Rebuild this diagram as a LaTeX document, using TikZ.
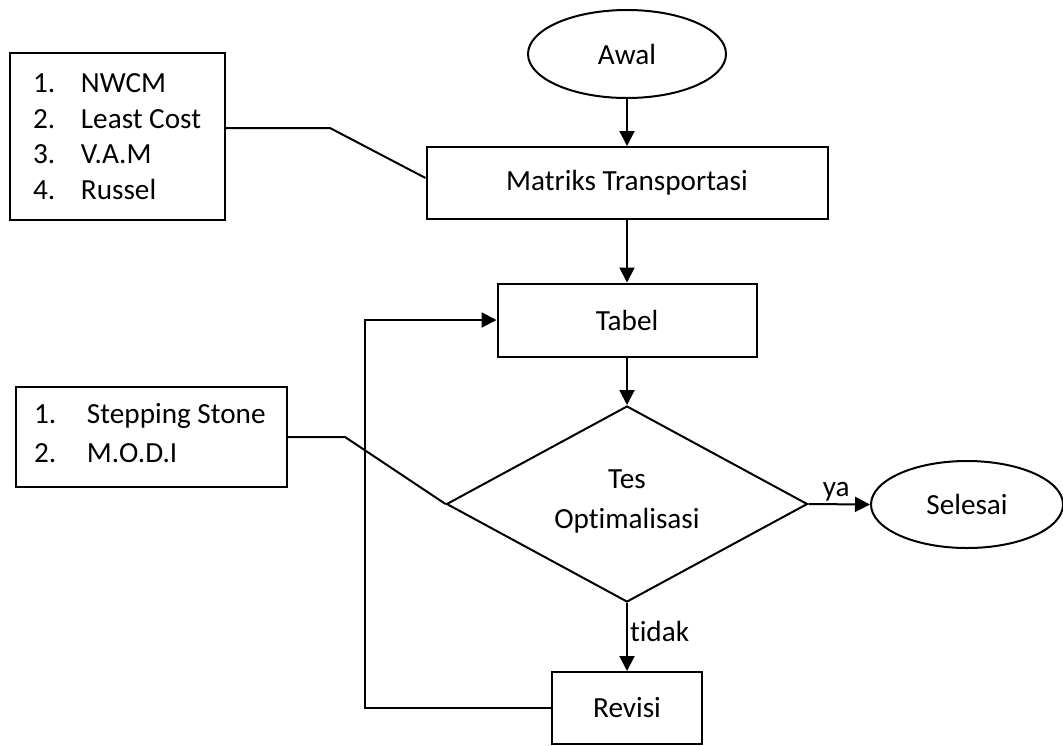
\documentclass[tikz,border=0pt]{standalone}
\usepackage{fontspec}
\setmainfont{Carlito}[Ligatures=NoCommon]
\usetikzlibrary{arrows.meta,shapes.geometric}

\begin{document}
\begin{tikzpicture}[
  x=0.5pt, y=-0.5pt,
  line width=1pt,
  every node/.style={font=\fontsize{14.6}{20}\selectfont},
  procbox/.style={draw, rectangle, inner sep=0pt},
  termin/.style={draw, ellipse, inner sep=0pt},
  decide/.style={draw, diamond, inner sep=0pt},
  listline/.style={anchor=base west, inner sep=0pt},
  arr/.style={-{Triangle[length=7.5pt,width=7.5pt]}},
  edgelbl/.style={inner sep=1pt}
]
\useasboundingbox (0,0) rectangle (1063,745);

% main flow
\node[termin, minimum width=99pt, minimum height=44pt] (awal) at (627,54) {Awal};
\node[procbox, minimum width=200.5pt, minimum height=36pt] (matriks) at (627,183) {Matriks Transportasi};
\node[procbox, minimum width=129.5pt, minimum height=36.5pt] (tabel) at (627,320) {Tabel};
\node[decide, minimum width=180.5pt, minimum height=98pt] (tes) at (627,504) {};
\node[align=center, inner sep=0pt] (tesText) at (627,501) {Tes\\Optimalisasi};
\node[procbox, minimum width=75pt, minimum height=36pt] (revisi) at (627,708) {Revisi};
\node[termin, minimum width=96pt, minimum height=43.5pt] (selesai) at (967,504.5) {Selesai};

% method lists
\node[procbox, minimum width=107.5pt, minimum height=83.5pt] (metode) at (117.5,136.5) {};
\node[listline] (m1) at (32,92) {\makebox[24pt][l]{1.}NWCM};
\node[listline] (m2) at (32,128) {\makebox[24pt][l]{2.}Least Cost};
\node[listline] (m3) at (32,163) {\makebox[24pt][l]{3.}V.A.M};
\node[listline] (m4) at (32,199) {\makebox[24pt][l]{4.}Russel};

\node[procbox, minimum width=135.5pt, minimum height=50pt] (uji) at (151.5,437) {};
\node[listline] (u1) at (33,423) {\makebox[26.5pt][l]{1.}Stepping Stone};
\node[listline] (u2) at (33,462) {\makebox[26.5pt][l]{2.}M.O.D.I};

% bend points and feedback route
\coordinate (k1) at (330,128);
\coordinate (k2) at (345,437);
\coordinate (fb) at (365,0);

% connectors
\draw[arr] (awal.south) -- (matriks.north);
\draw[arr] (matriks.south) -- (tabel.north);
\draw[arr] (tabel.south) -- (tes.north);
\draw[arr] (tes.south) -- node[edgelbl, right, pos=0.42] {tidak} (revisi.north);
\draw[arr] (tes.east) -- node[edgelbl, above, pos=0.45] {ya} (selesai.west);
\draw[arr] (revisi.west) -- (revisi.west -| fb) |- (tabel.west);

% method annotations
\draw ([yshift=4.25pt]metode.east) -- (k1) -- ([yshift=2.5pt]matriks.west);
\draw (uji.east) -- (k2) -- (tes.west);
\end{tikzpicture}
\end{document}
